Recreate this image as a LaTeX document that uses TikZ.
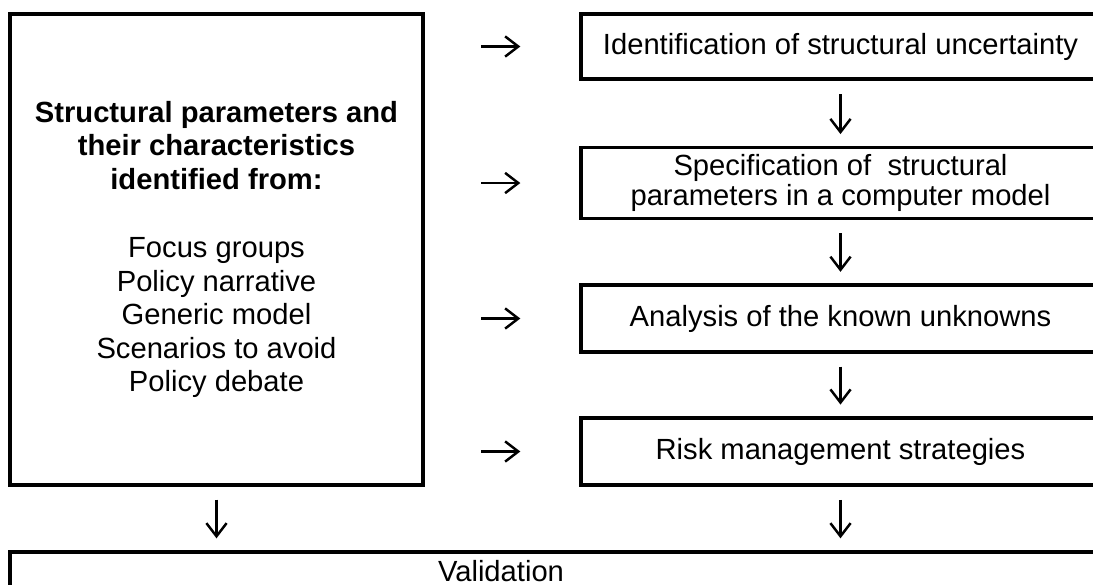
\documentclass[tikz,border=0pt]{standalone}
\usepackage{fontspec}
\setmainfont{Liberation Sans}
\usetikzlibrary{arrows.meta}

\begin{document}
\begin{tikzpicture}[
  box/.style={draw=black, line width=2.2pt, align=center, inner sep=0pt, font=\fontsize{16.6pt}{19.1pt}\selectfont},
  flow/.style={line width=1.4pt, -{Straight Barb[length=7.5pt,width=11.5pt]}},
  across/.style={flow, shorten <=1.13cm, shorten >=1.17cm},
  down/.style={flow, shorten <=0.26cm, shorten >=0.23cm}]
\useasboundingbox (0,0) rectangle (21.86,-11.68);
\clip (0,0) rectangle (21.86,-11.68);

\node[box, minimum width=8.25cm, minimum height=9.41cm] (param) at (4.33,-4.99) {\textbf{Structural parameters and}\\ \textbf{their characteristics}\\ \textbf{identified from:}\\[19.8pt] Focus groups\\ Policy narrative\\ Generic model\\ Scenarios to avoid\\ Policy debate};
\node[box, minimum width=10.39cm, minimum height=1.31cm] (ident) at (16.81,-0.93) {Identification of structural uncertainty};
\node[box, minimum width=10.39cm, minimum height=1.42cm, font=\fontsize{16.6pt}{17.1pt}\selectfont] (spec) at (16.81,-3.66) {Specification of\ \ structural\\ parameters in a computer model};
\node[box, minimum width=10.39cm, minimum height=1.33cm] (known) at (16.81,-6.37) {Analysis of the known unknowns};
\node[box, minimum width=10.39cm, minimum height=1.34cm] (risk) at (16.81,-9.03) {Risk management strategies};
\node[box, minimum width=21.79cm, minimum height=1.77cm] (valid) at (11.10,-11.92) {};
\node[anchor=base, inner sep=0pt, font=\fontsize{16.6pt}{19.1pt}\selectfont] (validtext) at (10.02,-11.62) {Validation};

\draw[across] (param.east |- ident.west) -- (ident.west);
\draw[across] (param.east |- spec.west) -- (spec.west);
\draw[across] (param.east |- known.west) -- (known.west);
\draw[across] (param.east |- risk.west) -- (risk.west);

\draw[down] (ident.south) -- (spec.north);
\draw[down] (spec.south) -- (known.north);
\draw[down] (known.south) -- (risk.north);
\draw[down] (param.south) -- (param.south |- valid.north);
\draw[down] (risk.south) -- (risk.south |- valid.north);
\end{tikzpicture}
\end{document}
